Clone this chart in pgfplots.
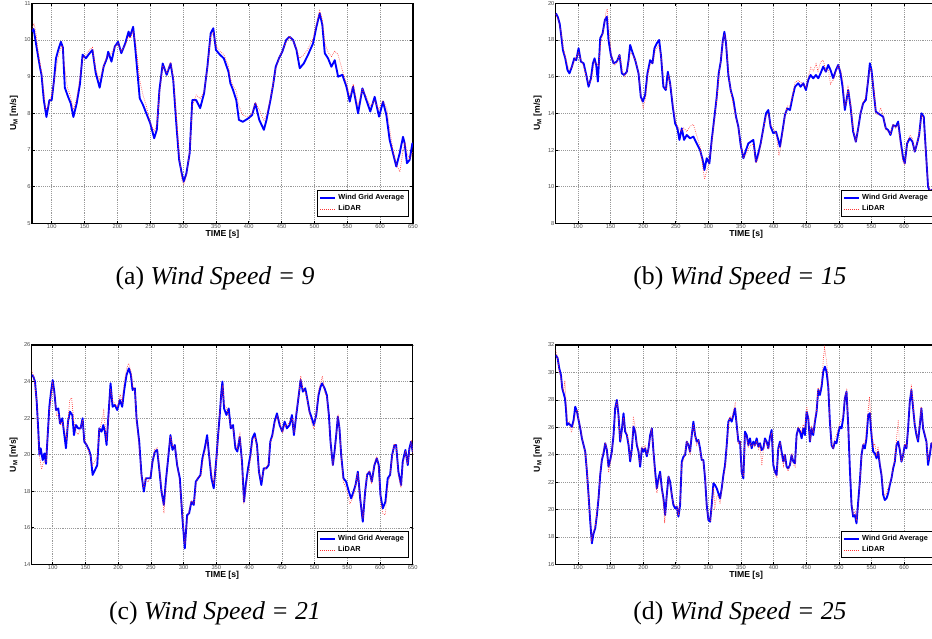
\documentclass[border=0pt]{standalone}
\usepackage{fontspec}
\setmainfont{Liberation Serif}
\setsansfont{Liberation Sans}
\usepackage{pgfplots}
\pgfplotsset{compat=1.18}

\pgfplotsset{
  windpanel/.style={
    scale only axis, width=285.75pt, height=165pt, anchor=north west,
    xmax=650, xtick={100,150,...,650},
    grid=major, grid style={densely dotted, black!40, line width=0.4pt},
    tick align=inside, major tick length=2pt,
    tick style={black, line width=0.5pt},
    axis line style={line width=0.8pt},
    ticklabel style={font=\sffamily\fontsize{4.3}{5}\selectfont, inner sep=0.8pt, text=black!70},
    /pgf/number format/assume math mode=true,
    xlabel={TIME [s]},
    ylabel={U\textsubscript{M} [m/s]},
    label style={font=\sffamily\bfseries\fontsize{6.5}{7}\selectfont},
    xlabel style={at={(axis description cs:0.5,0)}, anchor=north, yshift=-5pt, inner sep=0pt},
    ylabel style={at={(axis description cs:-0.036,0.5)}, anchor=south, inner sep=0pt},
    legend style={at={(0.99,0.03)}, anchor=south east, draw=black, line width=0.6pt,
      fill=white, font=\sffamily\bfseries\fontsize{5.5}{6}\selectfont,
      inner xsep=1.5pt, inner ysep=0.8pt, row sep=-1pt, cells={anchor=west}},
    legend image code/.code={\draw[#1] (0pt,0pt) -- (11pt,0pt);},
  },
  gridavg/.style={blue, line width=1.4pt, line join=round},
  lidar/.style={red!80, densely dotted, line width=0.5pt},
}
\tikzset{captionfont/.style={font=\fontsize{19.3}{21}\selectfont}}

\begin{document}
\begin{tikzpicture}
\useasboundingbox (0,0) rectangle (699pt,-479.25pt);

% ---------------- (a) wind speed 9 ----------------
\begin{axis}[windpanel, at={(24pt,-2.5pt)}, xmin=70, ymin=5, ymax=11, ytick={5,6,...,11}]
\addplot[gridavg] table[row sep=\\] {
70 10.23\\ 72.5 10.3\\ 77 9.8\\ 82 9.27\\ 84.5 9.05\\ 88 8.36\\ 92 7.9\\ 96.5 8.36\\ 100 8.36\\
103.5 8.9\\ 106.5 9.5\\ 110 9.73\\ 114 9.95\\ 117 9.8\\ 120 8.7\\ 125 8.45\\ 129 8.27\\ 133 7.9\\
138 8.27\\ 143 8.8\\ 147 9.6\\ 152 9.5\\ 156 9.6\\ 162 9.73\\ 167 9.1\\ 173 8.7\\ 179 9.27\\
184 9.5\\ 186 9.68\\ 191 9.41\\ 196 9.82\\ 201 9.95\\ 206 9.64\\ 212 9.91\\ 217 10.23\\ 219 10.09\\
224 10.36\\ 227 9.82\\ 234 8.41\\ 239 8.23\\ 244 8.0\\ 250 7.73\\ 256 7.32\\ 260 7.55\\ 264 8.64\\
269 9.36\\ 275 9.05\\ 281 9.36\\ 285 8.91\\ 290 7.64\\ 294 6.73\\ 298 6.36\\ 301 6.14\\ 305 6.36\\
310 6.91\\ 314 8.36\\ 320 8.36\\ 326 8.14\\ 332 8.55\\ 337 9.27\\ 342 10.18\\ 346 10.32\\ 350 9.73\\
356 9.6\\ 362 9.5\\ 369 9.14\\ 372 8.82\\ 376 8.64\\ 381 8.36\\ 385 7.82\\ 391 7.77\\ 399 7.86\\
405 7.95\\ 410 8.27\\ 416 7.82\\ 423 7.55\\ 427 7.82\\ 433 8.36\\ 437 8.77\\ 441 9.27\\ 446 9.5\\
451 9.68\\ 457 10.0\\ 462 10.09\\ 467.5 10.0\\ 472.6 9.73\\ 477.6 9.23\\ 483.7 9.36\\ 490.3 9.6\\
497.9 9.91\\ 503 10.36\\ 508 10.73\\ 512 10.41\\ 515.7 9.64\\ 520.7 9.5\\ 525.8 9.27\\ 530.9 9.45\\
536 9.0\\ 542.5 9.05\\ 548.6 8.73\\ 553.7 8.32\\ 558.7 8.73\\ 566.4 8.0\\ 573 8.68\\ 579 8.36\\
585 8.05\\ 591.7 8.45\\ 598.3 7.91\\ 604.4 8.32\\ 609.5 7.95\\ 614.5 7.27\\ 619.6 6.91\\ 624.6 6.55\\
629.7 6.91\\ 634.8 7.36\\ 637.3 7.18\\ 640.8 6.64\\ 644.9 6.73\\ 649 7.18\\ 650 7.1\\
};
\addplot[lidar] table[row sep=\\] {
70 10.3\\ 73 10.45\\ 76 10.2\\ 80 9.6\\ 84 9.2\\ 88 8.6\\ 91 8.1\\ 95 8.2\\ 100 8.5\\ 104 8.9\\
108 9.35\\ 112 9.7\\ 116 9.85\\ 120 9.2\\ 124 8.7\\ 128 8.5\\ 133 8.1\\ 138 8.4\\ 143 9.0\\ 147 9.5\\
152 9.6\\ 156 9.7\\ 162 9.8\\ 167 9.2\\ 173 8.9\\ 179 9.3\\ 184 9.55\\ 189 9.6\\ 196 9.8\\ 201 9.9\\
206 9.7\\ 212 9.85\\ 217 10.1\\ 220 10.05\\ 224 10.25\\ 228 9.9\\ 234 8.9\\ 239 8.5\\ 244 8.2\\
250 7.75\\ 256 7.5\\ 260 7.7\\ 264 8.5\\ 269 9.3\\ 275 9.1\\ 281 9.4\\ 285 9.0\\ 290 7.9\\ 294 6.9\\
298 6.2\\ 301 6.05\\ 305 6.3\\ 310 6.95\\ 314 8.2\\ 320 8.5\\ 326 8.4\\ 332 8.6\\ 337 9.2\\ 342 10.1\\
346 10.2\\ 350 9.85\\ 356 9.7\\ 362 9.6\\ 369 9.3\\ 372 8.95\\ 376 8.75\\ 381 8.6\\ 385 8.2\\ 391 7.95\\
399 7.9\\ 405 8.0\\ 410 8.3\\ 416 8.1\\ 423 7.8\\ 427 7.95\\ 433 8.4\\ 437 8.8\\ 441 9.2\\ 446 9.5\\
451 9.7\\ 457 9.95\\ 462 10.1\\ 467 10.0\\ 472 9.8\\ 477 9.5\\ 484 9.6\\ 490 9.75\\ 498 10.05\\
503 10.45\\ 508 10.8\\ 512 10.55\\ 516 9.9\\ 521 9.65\\ 526 9.55\\ 531 9.7\\ 536 9.6\\ 542 9.2\\
549 8.8\\ 554 8.45\\ 559 8.8\\ 566 8.2\\ 573 8.65\\ 579 8.45\\ 585 8.2\\ 592 8.35\\ 598 8.1\\
604 8.35\\ 610 8.15\\ 615 7.5\\ 620 6.95\\ 625 6.6\\ 630 6.4\\ 635 7.0\\ 638 7.2\\ 641 6.9\\
645 6.75\\ 650 6.95\\
};
\addlegendentry{Wind Grid Average}
\addlegendentry{LiDAR}
\end{axis}

% ---------------- (b) wind speed 15 ----------------
\begin{axis}[windpanel, at={(416.8pt,-2.5pt)}, xmin=66, xtick={100,150,...,600}, ymin=8, ymax=20, ytick={8,10,...,20}]
\addplot[gridavg] table[row sep=\\] {
66.3 19.45\\ 69 19.27\\ 72 18.9\\ 74 18.36\\ 77 17.45\\ 80.6 17.0\\ 84 16.36\\ 87 16.18\\ 90.8 16.55\\
94.4 17.0\\ 97.4 16.9\\ 101 17.55\\ 104.6 16.82\\ 108.7 16.73\\ 112.8 16.09\\ 116.3 15.45\\ 119.9 15.9\\
123 16.73\\ 125.5 17.0\\ 128 16.64\\ 130.6 15.73\\ 134.2 18.09\\ 137.8 18.36\\ 141.3 19.09\\ 144.4 19.27\\
146.9 18.0\\ 150.5 17.18\\ 154.6 16.73\\ 159.7 16.82\\ 163.8 17.18\\ 167.3 16.18\\ 170.9 16.09\\
175 16.27\\ 177.6 16.9\\ 180 17.73\\ 184.2 17.27\\ 187.8 16.9\\ 192.9 16.18\\ 196.4 14.9\\ 199.5 14.64\\
203 15.0\\ 206.6 16.18\\ 210.7 16.9\\ 214.3 16.73\\ 217.3 17.55\\ 220.9 17.82\\ 224.5 18.0\\ 227.5 17.09\\
231 15.45\\ 234.7 15.27\\ 237.8 16.27\\ 241.3 15.64\\ 245.4 14.36\\ 249 13.45\\ 252.5 13.18\\ 255.6 12.55\\
259.2 13.18\\ 262.7 12.55\\ 266.8 12.82\\ 271.9 12.64\\ 277 12.73\\ 282 12.36\\ 287.2 12.0\\ 291.3 11.45\\
293.9 10.91\\ 297.4 11.55\\ 301.5 11.27\\ 305.1 12.55\\ 308.7 13.64\\ 312.8 14.91\\ 315.8 16.18\\
318.9 16.82\\ 321.9 17.91\\ 324.5 18.45\\ 327 17.82\\ 330.6 16.09\\ 334.2 15.27\\ 338.3 14.73\\
342.3 13.82\\ 345.9 13.27\\ 349.5 12.27\\ 353.6 11.55\\ 357.7 12.0\\ 361.2 12.36\\ 364.8 12.45\\
368.9 12.55\\ 372.9 11.36\\ 376.5 11.82\\ 380.1 12.36\\ 384.2 13.18\\ 388.3 14.0\\ 391.8 14.18\\
395.4 13.27\\ 399.5 12.91\\ 403.6 13.0\\ 407.1 12.55\\ 409.7 12.18\\ 413.8 13.09\\ 417.3 13.91\\
420.9 14.27\\ 425 14.18\\ 429.1 14.91\\ 432.7 15.45\\ 437.7 15.64\\ 441.3 15.45\\ 445.4 15.64\\
449.5 15.27\\ 453 15.82\\ 456.6 16.09\\ 460.7 15.91\\ 464.8 16.09\\ 468.4 15.91\\ 471.9 16.18\\
476 16.55\\ 480.1 16.27\\ 483.7 16.64\\ 487.2 16.36\\ 491.3 15.91\\ 495.4 16.36\\ 499 16.64\\
502.6 16.18\\ 505.6 15.45\\ 509.2 14.18\\ 511.7 14.73\\ 514.3 15.27\\ 517.9 14.36\\ 521.9 13.0\\
526 12.45\\ 529.6 13.18\\ 533.2 14.0\\ 537.2 14.55\\ 541.3 14.73\\ 544.9 15.82\\ 547.5 16.73\\
550 16.36\\ 553.6 15.09\\ 556.6 14.09\\ 560.2 14.0\\ 563.8 13.91\\ 567.8 13.82\\ 571.9 13.18\\
575.5 13.09\\ 579.1 12.82\\ 583.2 13.36\\ 587.2 13.27\\ 590.8 13.55\\ 594.4 12.55\\ 598.5 11.55\\
601 11.27\\ 604.6 12.36\\ 608.7 12.64\\ 612.8 12.45\\ 616.3 11.91\\ 619.9 12.36\\ 623 12.82\\
626.5 14.0\\ 630.1 13.82\\ 633.2 12.0\\ 636.7 10.0\\ 639.3 9.73\\ 642.3 9.82\\ 650 9.9\\
};
\addplot[lidar] table[row sep=\\] {
66 19.4\\ 70 19.1\\ 74 18.45\\ 78 17.5\\ 82 16.9\\ 86 16.4\\ 91 16.5\\ 95 16.9\\ 101 17.3\\ 105 16.9\\
109 16.5\\ 113 16.0\\ 117 15.6\\ 121 15.9\\ 125 16.8\\ 129 16.7\\ 132 16.6\\ 135 17.9\\ 139 18.5\\
143 19.5\\ 145 19.7\\ 148 18.4\\ 151 17.2\\ 156 16.6\\ 160 16.8\\ 164 17.2\\ 168 16.3\\ 172 16.0\\
176 16.4\\ 180 17.3\\ 184 17.2\\ 189 16.8\\ 193 16.2\\ 197 14.8\\ 200 14.3\\ 204 14.9\\ 207 16.1\\
211 16.7\\ 215 16.8\\ 219 17.5\\ 224 17.7\\ 228 17.0\\ 232 15.5\\ 236 15.3\\ 239 16.0\\ 242 15.5\\
246 14.4\\ 250 13.5\\ 254 13.2\\ 258 13.0\\ 262 13.2\\ 267 13.0\\ 272 13.3\\ 277 13.4\\ 282 12.8\\
287 12.2\\ 291 11.2\\ 294 10.4\\ 297 10.8\\ 301 11.3\\ 305 12.3\\ 309 13.6\\ 313 14.8\\ 316 16.0\\
319 16.9\\ 322 17.9\\ 325 18.3\\ 327 17.9\\ 331 16.2\\ 334 15.3\\ 338 14.5\\ 342 13.8\\ 346 13.2\\
350 12.2\\ 354 11.6\\ 358 11.8\\ 362 12.1\\ 366 12.3\\ 369 12.3\\ 373 11.3\\ 377 11.6\\ 380 12.2\\
384 13.1\\ 388 13.8\\ 392 14.0\\ 395 13.4\\ 400 13.1\\ 404 12.9\\ 408 11.7\\ 410 12.0\\ 414 13.0\\
417 13.8\\ 421 14.4\\ 425 14.4\\ 429 15.0\\ 433 15.7\\ 438 15.8\\ 441 15.7\\ 445 15.6\\ 450 15.4\\
453 16.0\\ 457 16.5\\ 461 16.3\\ 465 16.7\\ 468 16.3\\ 472 16.8\\ 476 16.9\\ 480 16.3\\ 484 16.4\\
487 15.6\\ 491 15.8\\ 495 16.2\\ 499 16.6\\ 503 16.3\\ 506 15.8\\ 509 14.4\\ 512 14.6\\ 514 15.4\\
518 14.5\\ 522 13.1\\ 526 12.5\\ 530 13.2\\ 533 14.0\\ 537 14.6\\ 541 14.9\\ 545 15.9\\ 548 16.5\\
550 16.2\\ 554 15.2\\ 557 14.0\\ 560 13.9\\ 564 14.3\\ 568 13.9\\ 572 13.1\\ 576 13.0\\ 579 12.9\\
583 13.4\\ 587 13.2\\ 591 13.4\\ 594 12.4\\ 598 11.4\\ 601 11.2\\ 605 12.5\\ 609 12.8\\ 613 12.6\\
616 11.9\\ 620 12.4\\ 623 12.9\\ 627 13.9\\ 630 13.7\\ 633 11.9\\ 637 10.1\\ 639 9.8\\ 643 9.9\\
650 10.2\\
};
\addlegendentry{Wind Grid Average}
\addlegendentry{LiDAR}
\end{axis}

% ---------------- (c) wind speed 21 ----------------
\begin{axis}[windpanel, at={(23.8pt,-258.75pt)}, height=164.5pt, xmin=68, ymin=14, ymax=26, ytick={14,16,...,26}]
\addplot[gridavg] table[row sep=\\] {
68 24.36\\ 70.5 24.27\\ 73 24.0\\ 75.6 22.9\\ 78.1 21.26\\ 79.7 20.0\\ 81.7 20.35\\ 84.8 19.7\\
87.3 20.07\\ 89.8 19.5\\ 92.4 21.07\\ 94.9 22.62\\ 97.5 23.45\\ 100 24.08\\ 102.5 23.45\\ 105.1 22.44\\
108.6 22.53\\ 111.2 21.71\\ 114.7 21.99\\ 117.8 21.07\\ 120.3 20.35\\ 123.4 21.8\\ 126.4 22.35\\
130 22.17\\ 132.5 21.07\\ 135.6 21.62\\ 139.1 21.44\\ 142.7 21.44\\ 145.7 21.99\\ 148.3 20.71\\
151.8 20.53\\ 155.4 20.26\\ 157.9 19.98\\ 161 18.89\\ 164.6 19.16\\ 168.1 19.43\\ 171.2 21.44\\
174.7 21.26\\ 177.3 21.62\\ 179.8 21.26\\ 182.3 20.53\\ 184.9 21.99\\ 188.4 23.9\\ 191.5 22.62\\
195 22.72\\ 198.6 22.44\\ 202.7 22.99\\ 206.2 22.62\\ 209.3 23.54\\ 212.8 24.36\\ 216.4 24.72\\
219.5 24.36\\ 222 23.54\\ 225.5 23.63\\ 228.1 21.99\\ 232.2 20.71\\ 235.7 18.89\\ 239.3 17.98\\
242.3 18.71\\ 245.9 18.71\\ 249.4 18.71\\ 252.5 19.62\\ 256 20.16\\ 259.6 20.26\\ 262.7 19.25\\
266.2 17.98\\ 269.8 17.25\\ 272.8 18.52\\ 276.4 19.8\\ 279.9 21.07\\ 283 20.26\\ 286.5 20.53\\
290.1 19.43\\ 294.2 18.71\\ 298.2 16.52\\ 301.8 14.87\\ 305.4 16.7\\ 308.4 16.79\\ 312 17.43\\
315.5 17.25\\ 318.6 18.52\\ 322.1 18.71\\ 325.7 18.89\\ 328.7 19.8\\ 332.3 20.35\\ 335.9 21.07\\
338.9 19.98\\ 342.5 18.71\\ 346 18.16\\ 350.1 19.8\\ 352.7 21.07\\ 355.2 22.17\\ 357.7 23.45\\
359.3 24.0\\ 361.8 22.53\\ 365.4 22.17\\ 368.9 22.53\\ 372 21.44\\ 375.5 21.62\\ 379.1 20.35\\
382.1 20.17\\ 385.7 20.98\\ 389.2 19.62\\ 392.3 17.43\\ 394.9 18.34\\ 398.4 19.25\\ 402 19.98\\
405 20.89\\ 408.5 21.17\\ 412.1 20.53\\ 415.1 19.07\\ 418.7 18.34\\ 422.3 19.25\\ 426.3 19.25\\
429.9 19.43\\ 432.4 20.71\\ 435.5 21.07\\ 439 21.81\\ 442.6 22.26\\ 446.7 21.62\\ 450.7 21.26\\
454.3 21.81\\ 457.8 21.44\\ 461.9 21.62\\ 465.5 22.17\\ 468.5 21.07\\ 472.1 22.17\\ 475.6 23.17\\
478.7 24.08\\ 482.2 23.45\\ 485.8 23.63\\ 488.8 23.08\\ 492.4 22.35\\ 495.9 21.99\\ 499 21.62\\
502.6 22.17\\ 506.1 23.26\\ 509.2 23.72\\ 511.7 23.9\\ 515.3 23.63\\ 518.8 23.26\\ 521.9 22.17\\
524.4 20.71\\ 528 19.43\\ 530.5 20.16\\ 533.1 21.07\\ 535.6 22.08\\ 538.1 21.44\\ 540.7 19.98\\
544.2 18.71\\ 548.3 18.52\\ 552.4 17.98\\ 555.9 17.61\\ 559.5 17.98\\ 562.6 18.34\\ 566.1 19.07\\
569.7 17.61\\ 573.7 16.33\\ 577.3 17.98\\ 580.3 18.89\\ 583.9 19.07\\ 587.4 18.52\\ 591.5 19.43\\
595.1 19.8\\ 598.1 19.43\\ 600.7 17.79\\ 604.2 17.06\\ 608.3 17.43\\ 611.8 18.71\\ 615.4 18.89\\
618.5 19.98\\ 622 20.53\\ 624.6 20.53\\ 628.1 19.07\\ 632.2 18.34\\ 634.7 19.62\\ 638.8 20.26\\
642.4 19.43\\ 644.9 20.35\\ 647.4 20.71\\ 650 20.16\\
};
\addplot[lidar] table[row sep=\\] {
68 24.6\\ 71 24.3\\ 73 23.8\\ 76 22.8\\ 78 21.0\\ 80 19.9\\ 83 19.2\\ 86 19.6\\ 90 19.6\\ 92 20.9\\
95 22.4\\ 98 23.3\\ 100 23.9\\ 103 23.2\\ 106 22.1\\ 109 22.2\\ 112 21.6\\ 115 21.8\\ 118 21.3\\
121 20.9\\ 124 22.0\\ 126 23.0\\ 129 23.1\\ 132 21.9\\ 136 21.2\\ 139 21.1\\ 143 21.5\\ 146 21.9\\
148 20.9\\ 152 20.5\\ 155 20.2\\ 158 19.9\\ 161 19.4\\ 164 19.6\\ 168 19.9\\ 171 21.3\\ 175 21.8\\
178 22.4\\ 180 21.6\\ 182 20.9\\ 185 21.8\\ 188 23.6\\ 192 22.9\\ 195 22.8\\ 199 22.6\\ 203 23.3\\
206 22.9\\ 209 23.9\\ 213 24.7\\ 216 25.0\\ 220 24.5\\ 222 23.8\\ 226 23.4\\ 228 21.9\\ 232 20.5\\
236 18.7\\ 239 18.2\\ 242 18.7\\ 246 18.5\\ 249 18.8\\ 253 19.7\\ 256 20.3\\ 260 20.4\\ 263 19.3\\
266 18.2\\ 270 16.8\\ 273 18.3\\ 276 19.9\\ 280 21.0\\ 283 20.5\\ 287 20.4\\ 290 19.6\\ 294 18.5\\
298 16.8\\ 302 15.1\\ 305 16.3\\ 308 16.9\\ 312 17.5\\ 316 17.3\\ 319 18.4\\ 322 18.8\\ 326 18.8\\
329 19.6\\ 332 20.1\\ 336 20.8\\ 339 20.0\\ 343 18.9\\ 346 18.4\\ 350 19.6\\ 353 21.1\\ 355 22.3\\
358 23.3\\ 360 23.8\\ 362 22.7\\ 365 22.6\\ 369 22.1\\ 372 21.6\\ 376 21.4\\ 379 20.6\\ 382 20.3\\
386 21.1\\ 389 19.5\\ 392 17.3\\ 395 18.1\\ 398 18.9\\ 402 19.7\\ 405 20.8\\ 409 21.0\\ 412 20.4\\
415 19.1\\ 419 18.6\\ 422 19.1\\ 426 19.3\\ 430 19.6\\ 432 20.6\\ 436 21.0\\ 439 21.7\\ 443 22.1\\
447 21.8\\ 451 21.2\\ 454 21.6\\ 458 21.6\\ 462 21.8\\ 466 22.0\\ 469 21.2\\ 472 22.3\\ 476 23.3\\
479 24.3\\ 482 23.6\\ 486 23.4\\ 489 23.0\\ 492 22.3\\ 496 21.7\\ 499 21.4\\ 503 22.4\\ 506 23.5\\
509 23.9\\ 512 24.3\\ 515 23.5\\ 519 23.1\\ 522 22.0\\ 524 20.8\\ 528 19.5\\ 531 20.0\\ 533 21.0\\
536 22.2\\ 538 21.6\\ 541 19.8\\ 544 18.5\\ 548 18.2\\ 552 17.6\\ 554 17.3\\ 560 17.8\\ 563 18.4\\
566 19.0\\ 570 17.5\\ 574 16.5\\ 577 17.8\\ 580 19.0\\ 584 19.1\\ 587 18.4\\ 592 19.6\\ 595 19.9\\
598 19.2\\ 601 17.5\\ 604 16.8\\ 608 16.7\\ 612 18.3\\ 615 18.8\\ 619 20.0\\ 622 20.6\\ 625 20.4\\
628 18.9\\ 632 18.2\\ 635 19.5\\ 639 20.2\\ 642 19.5\\ 645 20.2\\ 648 20.8\\ 650 20.0\\
};
\addlegendentry{Wind Grid Average}
\addlegendentry{LiDAR}
\end{axis}

% ---------------- (d) wind speed 25 ----------------
\begin{axis}[windpanel, at={(416.8pt,-258.75pt)}, height=164.5pt, xmin=66, xtick={100,150,...,600}, ymin=16, ymax=32, ytick={16,18,...,32}]
\addplot[gridavg] table[row sep=\\] {
66.3 31.27\\ 68.9 31.03\\ 71.4 30.3\\ 74 29.81\\ 76 28.84\\ 78.1 28.47\\ 80.1 28.11\\ 81.6 27.38\\
83.2 26.16\\ 85.7 26.29\\ 88.3 26.16\\ 90.8 26.04\\ 93.4 26.53\\ 95.9 27.5\\ 98.5 27.14\\ 101 26.53\\
103.6 25.92\\ 106.1 25.19\\ 108.7 24.7\\ 111.2 24.22\\ 113.8 22.76\\ 116.3 21.06\\ 118.9 19.11\\
121.4 17.53\\ 124 18.26\\ 126.5 18.63\\ 129.1 19.6\\ 131.6 20.81\\ 134.2 22.52\\ 136.7 23.61\\
139.3 24.1\\ 141.8 24.83\\ 144.4 24.34\\ 146.9 23.12\\ 149.5 23.61\\ 152 24.22\\ 154.6 25.43\\
157.1 27.38\\ 159.7 27.99\\ 162.2 26.89\\ 164.8 24.95\\ 167.3 25.8\\ 169.9 27.02\\ 172.4 25.68\\
175 25.43\\ 177.6 24.7\\ 180.1 23.51\\ 182.7 24.46\\ 185.2 26.04\\ 187.8 25.68\\ 190.3 24.7\\
192.9 24.22\\ 195.4 23.12\\ 198 24.46\\ 200.5 24.22\\ 203.1 24.46\\ 205.6 23.88\\ 208.2 24.46\\
210.7 25.43\\ 213.3 25.92\\ 215.8 24.22\\ 218.4 22.76\\ 220.9 21.54\\ 223.5 22.27\\ 226 22.76\\
228.6 21.54\\ 231.1 20.81\\ 233.7 19.6\\ 236.2 21.06\\ 238.8 22.4\\ 241.3 22.03\\ 243.9 21.06\\
246.4 20.33\\ 249 20.08\\ 251.5 20.21\\ 254.1 19.48\\ 256.6 20.33\\ 259.2 23.49\\ 261.7 23.85\\
264.3 23.98\\ 266.8 24.95\\ 269.4 24.7\\ 271.9 24.22\\ 274.5 25.43\\ 277 26.41\\ 279.6 25.43\\
282.1 24.95\\ 284.7 25.07\\ 287.2 24.46\\ 289.8 23.61\\ 292.3 23.61\\ 294.9 22.27\\ 297.4 20.33\\
300 19.24\\ 302.6 19.11\\ 305.1 20.33\\ 307.7 21.91\\ 310.2 21.79\\ 312.8 21.54\\ 315.3 21.18\\
317.9 20.81\\ 320.4 21.54\\ 323 22.52\\ 325.5 23.25\\ 328.1 24.7\\ 330.6 26.41\\ 333.2 26.65\\
335.7 26.41\\ 338.3 26.89\\ 340.8 27.38\\ 343.4 26.16\\ 345.9 24.95\\ 348.5 24.95\\ 351 22.76\\
353.6 22.27\\ 356.1 25.68\\ 358.7 25.43\\ 361.2 24.7\\ 363.8 25.19\\ 366.3 24.46\\ 368.9 24.95\\
371.4 24.7\\ 374 25.19\\ 376.5 24.58\\ 379.1 24.83\\ 381.6 24.34\\ 384.2 24.46\\ 386.7 25.19\\
389.3 24.95\\ 391.8 24.46\\ 394.4 25.31\\ 396.9 25.8\\ 399.5 23.25\\ 402 22.76\\ 404.6 22.52\\
407.1 24.46\\ 409.7 24.95\\ 412.2 24.22\\ 414.8 23.49\\ 417.3 23.98\\ 419.9 23.12\\ 422.4 23.0\\
425 23.25\\ 427.5 23.98\\ 430.1 23.49\\ 432.7 23.37\\ 435.2 25.43\\ 437.8 25.92\\ 440.3 25.68\\
442.9 25.19\\ 445.4 25.92\\ 448 25.43\\ 450.5 27.14\\ 453.1 26.65\\ 455.6 24.95\\ 458.2 25.92\\
460.7 25.43\\ 463.3 26.41\\ 465.8 27.14\\ 468.4 28.72\\ 470.9 28.35\\ 473.5 28.96\\ 476 30.05\\
478.6 30.42\\ 481.1 30.05\\ 483.7 28.96\\ 486.2 26.41\\ 488.8 24.7\\ 491.3 24.46\\ 493.9 24.95\\
496.4 24.83\\ 499 25.56\\ 501.5 26.04\\ 504.1 25.92\\ 506.6 26.65\\ 509.2 28.11\\ 511.7 28.6\\
514.3 26.16\\ 516.8 23.0\\ 519.4 20.33\\ 521.9 19.48\\ 524.5 19.6\\ 527 18.99\\ 529.6 20.57\\
532.1 22.03\\ 534.7 23.98\\ 537.2 24.7\\ 539.8 24.46\\ 542.3 25.19\\ 544.9 26.89\\ 547.4 27.02\\
550 25.43\\ 552.6 24.22\\ 555.1 24.1\\ 557.7 23.73\\ 560.2 24.22\\ 562.8 23.25\\ 565.3 22.52\\
567.9 21.06\\ 570.4 20.69\\ 573 20.81\\ 575.5 21.18\\ 578.1 21.79\\ 580.6 22.27\\ 583.2 23.0\\
585.7 23.49\\ 588.3 24.7\\ 590.8 24.95\\ 593.4 24.34\\ 595.9 23.49\\ 598.5 23.98\\ 601 24.7\\
603.6 24.46\\ 606.1 25.92\\ 608.7 27.87\\ 611.2 28.72\\ 613.8 27.38\\ 616.3 26.16\\ 618.9 25.43\\
621.4 24.95\\ 624 26.16\\ 626.5 27.38\\ 629.1 25.92\\ 631.6 25.43\\ 634.2 24.95\\ 636.7 23.25\\
639.3 23.98\\ 641.8 24.83\\ 650 24.5\\
};
\addplot[lidar] table[row sep=\\] {
66 31.6\\ 69 31.0\\ 71 30.2\\ 74 29.6\\ 76 29.0\\ 78 28.6\\ 80 29.4\\ 82 27.7\\ 84 26.4\\ 87 26.4\\
90 25.6\\ 93 26.2\\ 96 27.0\\ 99 27.3\\ 101 26.6\\ 104 26.0\\ 106 25.3\\ 109 24.6\\ 111 24.2\\
114 22.9\\ 116 21.0\\ 119 19.3\\ 121 17.8\\ 124 18.4\\ 127 18.9\\ 129 19.8\\ 132 20.9\\ 134 22.7\\
137 23.8\\ 139 24.3\\ 142 24.9\\ 144 24.5\\ 147 22.7\\ 150 23.5\\ 152 24.1\\ 155 25.6\\ 157 27.4\\
160 27.8\\ 162 26.8\\ 165 25.2\\ 167 25.6\\ 170 26.7\\ 172 25.9\\ 175 25.6\\ 178 24.8\\ 180 23.7\\
183 24.5\\ 185 26.8\\ 188 25.9\\ 190 24.9\\ 193 24.4\\ 195 23.3\\ 198 24.6\\ 201 24.4\\ 203 24.7\\
206 24.0\\ 208 24.3\\ 211 25.4\\ 213 25.8\\ 216 24.0\\ 218 22.6\\ 221 21.2\\ 224 22.0\\ 226 22.6\\
229 21.3\\ 231 20.6\\ 233 19.0\\ 236 20.9\\ 239 22.3\\ 241 21.9\\ 244 21.0\\ 246 20.4\\ 249 20.3\\
252 20.2\\ 254 19.6\\ 257 20.6\\ 259 23.3\\ 262 23.6\\ 264 24.1\\ 267 25.0\\ 269 24.7\\ 272 24.0\\
274 25.4\\ 277 26.2\\ 280 25.3\\ 282 24.7\\ 285 25.0\\ 287 24.3\\ 290 23.7\\ 292 23.5\\ 295 22.5\\
297 20.5\\ 300 19.3\\ 303 19.2\\ 305 20.1\\ 308 21.6\\ 310 20.2\\ 313 21.0\\ 315 21.0\\ 318 20.4\\
320 21.3\\ 323 22.4\\ 326 23.1\\ 328 24.6\\ 331 26.2\\ 333 26.8\\ 336 26.6\\ 338 27.1\\ 341 27.7\\
343 26.5\\ 346 24.8\\ 349 24.9\\ 351 22.8\\ 354 22.4\\ 356 25.4\\ 359 25.2\\ 361 24.5\\ 364 24.9\\
366 24.6\\ 369 24.8\\ 371 24.6\\ 374 25.0\\ 377 24.4\\ 379 24.7\\ 382 23.2\\ 384 24.3\\ 387 25.0\\
389 24.8\\ 392 24.4\\ 394 25.0\\ 397 25.6\\ 400 23.4\\ 402 22.6\\ 405 22.3\\ 407 24.3\\ 410 24.8\\
412 24.0\\ 415 23.2\\ 417 23.9\\ 420 23.0\\ 422 22.8\\ 425 23.2\\ 428 24.1\\ 430 23.3\\ 433 23.1\\
435 25.2\\ 438 26.0\\ 440 25.9\\ 443 25.6\\ 445 26.2\\ 448 26.0\\ 451 27.5\\ 453 26.8\\ 456 25.0\\
458 26.1\\ 461 25.6\\ 463 26.6\\ 466 27.3\\ 468 28.9\\ 471 28.6\\ 474 29.4\\ 476 30.9\\ 478 31.8\\
481 30.9\\ 484 29.2\\ 486 26.6\\ 489 24.9\\ 491 24.5\\ 494 25.2\\ 496 25.4\\ 499 25.9\\ 502 26.4\\
504 26.5\\ 507 27.0\\ 509 28.2\\ 512 28.7\\ 514 26.5\\ 517 23.3\\ 519 20.6\\ 522 19.6\\ 525 19.9\\
527 19.3\\ 530 20.4\\ 532 21.9\\ 535 24.0\\ 537 24.8\\ 540 24.8\\ 542 25.7\\ 545 27.3\\ 547 28.2\\
550 25.8\\ 553 24.6\\ 555 24.8\\ 558 23.9\\ 560 24.6\\ 563 23.4\\ 565 22.8\\ 568 21.4\\ 570 21.0\\
573 21.2\\ 575 21.5\\ 578 21.9\\ 581 22.4\\ 583 23.1\\ 586 23.7\\ 588 24.9\\ 591 26.5\\ 593 24.6\\
596 23.6\\ 599 24.1\\ 601 24.8\\ 604 24.6\\ 606 26.0\\ 609 28.1\\ 611 29.1\\ 614 27.6\\ 616 26.3\\
619 25.6\\ 621 25.1\\ 624 26.3\\ 626 27.5\\ 629 26.0\\ 632 25.5\\ 634 25.0\\ 637 23.6\\ 639 24.1\\
642 24.9\\ 650 24.6\\
};
\addlegendentry{Wind Grid Average}
\addlegendentry{LiDAR}
\end{axis}

% sub-figure captions
\node[captionfont] at (161.25pt,-208.5pt) {(a) \textit{Wind Speed = 9}};
\node[captionfont] at (555pt,-208.5pt) {(b) \textit{Wind Speed = 15}};
\node[captionfont] at (161.25pt,-460pt) {(c) \textit{Wind Speed = 21}};
\node[captionfont] at (555pt,-460pt) {(d) \textit{Wind Speed = 25}};
\end{tikzpicture}
\end{document}
